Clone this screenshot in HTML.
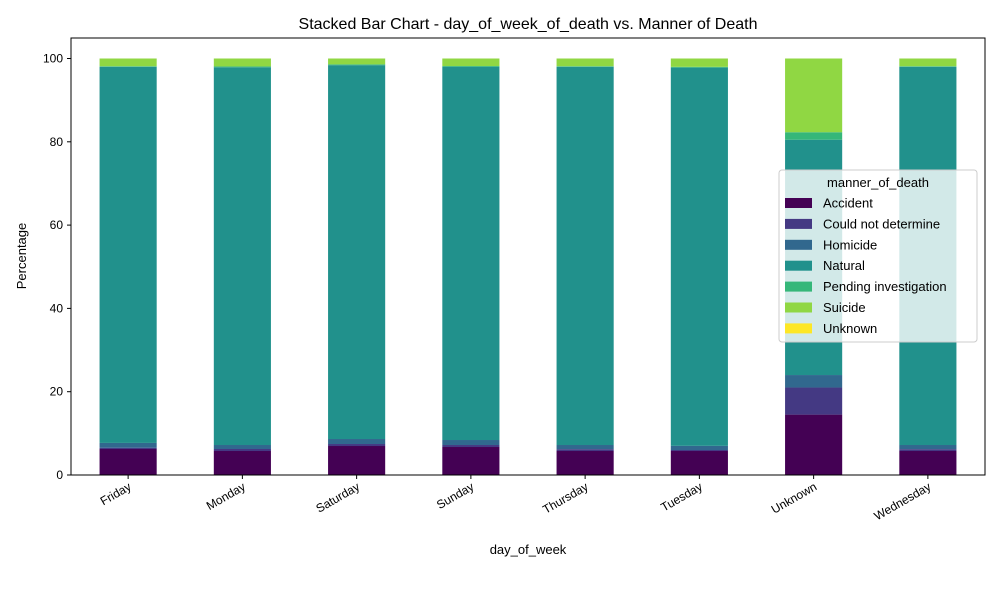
<!DOCTYPE html>
<html><head><meta charset="utf-8"><style>
body{margin:0;background:#fff;font-family:"Liberation Sans",sans-serif}
</style></head><body>
<svg id="chart" width="1000" height="600" xmlns="http://www.w3.org/2000/svg" font-family="Liberation Sans, sans-serif">
<text x="528" y="29" font-size="16" text-anchor="middle">Stacked Bar Chart - day_of_week_of_death vs. Manner of Death</text>
<g id="bars"></g>
<g id="axes"></g>
<text x="528" y="554" font-size="13" text-anchor="middle">day_of_week</text>
<text transform="translate(26,256) rotate(-90)" font-size="13" text-anchor="middle">Percentage</text>
<g id="legend"></g>
</svg>
<script>
const categories=["Friday","Monday","Saturday","Sunday","Thursday","Tuesday","Unknown","Wednesday"];
const seriesNames=["Accident","Could not determine","Homicide","Natural","Pending investigation","Suicide","Unknown"];
const accident=[6.24,5.76,6.96,6.72,5.76,5.76,14.5,5.76];
const couldNotDetermine=[0.31,0.48,0.48,0.48,0.44,0.24,6.5,0.44];
const homicide=[1.15,0.96,1.2,1.2,1.0,1.0,3.0,1.0];
const natural=[90.3,90.7,89.76,89.6,90.8,90.8,56.5,90.8];
const pending=[0.15,0.2,0.2,0.2,0.15,0.2,1.8,0.15];
const suicide=[1.85,1.9,1.4,1.8,1.85,2.0,17.7,1.85];
const unknownS=[0,0,0,0,0,0,0,0];
const yTicks=[0,20,40,60,80,100];
const series=[accident,couldNotDetermine,homicide,natural,pending,suicide,unknownS];
const colors=["#440154","#443983","#31688e","#21918c","#35b779","#90d743","#fde725"];
const NS="http://www.w3.org/2000/svg";
const L=71,R=985,T=38,B=475;
const ymax=(B-T)/((B-58.5)/100);
const y=v=>B-v/ymax*(B-T);
const step=(R-L)/categories.length;
const xc=i=>L+step*(i+0.5);
const bw=step*0.5;
function mk(tag,attrs,parent){const e=document.createElementNS(NS,tag);for(const k in attrs)e.setAttribute(k,attrs[k]);parent.appendChild(e);return e;}
const bars=document.getElementById('bars');
categories.forEach((c,i)=>{let acc=0;series.forEach((s,j)=>{const v=s[i];if(v<=0){return;}
const r=mk('rect',{x:xc(i)-bw/2,y:y(acc+v),width:bw,height:y(acc)-y(acc+v),fill:colors[j]},bars);


acc+=v;});});
const ax=document.getElementById('axes');
const frame=mk('rect',{x:L,y:T,width:R-L,height:B-T,fill:'none',stroke:'#000','stroke-width':1},ax);


yTicks.forEach(t=>{mk('line',{x1:L-4,x2:L,y1:y(t),y2:y(t),stroke:'#000'},ax);
const tx=mk('text',{x:L-8,y:y(t)+4,'font-size':12,'text-anchor':'end'},ax);tx.textContent=t;

});
categories.forEach((c,i)=>{mk('line',{x1:xc(i),x2:xc(i),y1:B,y2:B+4,stroke:'#000'},ax);
const tx=mk('text',{transform:`translate(${xc(i)+4},${B+14}) rotate(-30)`,'font-size':12,'text-anchor':'end'},ax);tx.textContent=c;

});
const lg=document.getElementById('legend');
const box=mk('rect',{x:779,y:170,width:198,height:172,rx:3,fill:'#fff','fill-opacity':0.8,stroke:'#ccc'},lg);


const lt=mk('text',{x:878,y:187,'font-size':13,'text-anchor':'middle'},lg);lt.textContent='manner_of_death';


seriesNames.forEach((n,j)=>{const yy=203+j*20.9;
mk('rect',{x:785,y:yy-5,width:27,height:10,fill:colors[j]},lg);
const t=mk('text',{x:823,y:yy+4.5,'font-size':13},lg);t.textContent=n;

});
</script>
</body></html>
